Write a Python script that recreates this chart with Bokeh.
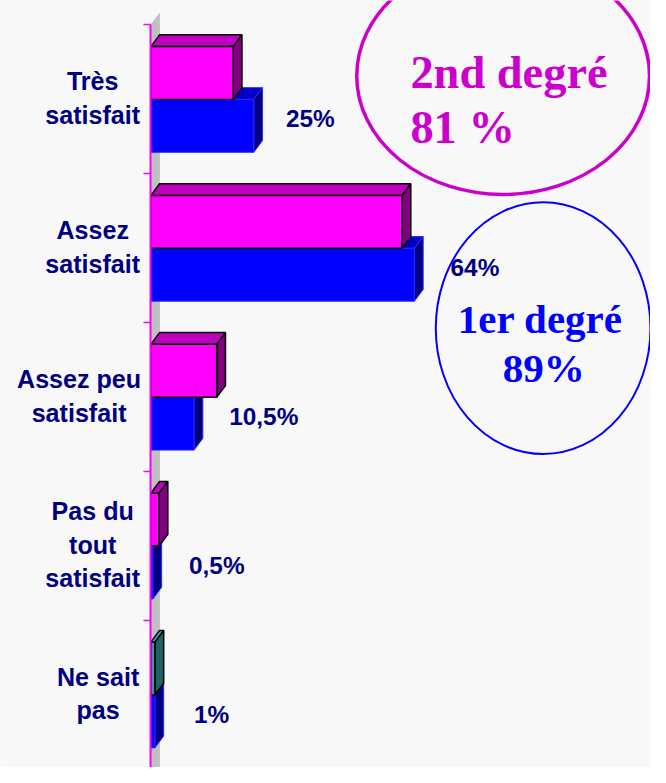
from bokeh.plotting import figure
from bokeh.models import Range1d, LinearAxis, FixedTicker, Label, ColumnDataSource
from bokeh.core.properties import value
from bokeh.embed import file_html
from bokeh.resources import INLINE

# ---------------- data ----------------
categories = ["Très\nsatisfait", "Assez\nsatisfait", "Assez peu\nsatisfait",
              "Pas du\ntout\nsatisfait", "Ne sait\npas"]
second_degre = [20, 61, 16, 2, 1]          # pink series (%)
premier_degre = [25, 64, 10.5, 0.5, 1]     # blue series (%)
value_labels = ["25%", "64%", "10,5%", "0,5%", "1%"]
bubble_2nd = ["2nd degré", "81 %"]
bubble_1er = ["1er degré", "89%"]

# ---------------- layout / style ----------------
W, H = 650, 767
SX, SY = W / 666, H / 783
PX_PER_PCT = 4.22 * SX
BAND_PX = 152 * SY
AXIS_PX = 154 * SX
TOP_PX = 25 * SY
BAR = 0.355
DX = 9 * SX / PX_PER_PCT
DY = 12 * SY / BAND_PX
BG = "#F8F8F8"
NAVY = "#000080"
FS_VAL = "%.1fpx" % (25 * SX)
FS_CAT = "%.1fpx" % (25.7 * SX)

y_end = -0.5 - TOP_PX / BAND_PX
y_start = -0.5 + (H - TOP_PX) / BAND_PX


def rx(ref_x):
    return (ref_x * SX - AXIS_PX) / PX_PER_PCT


def ry(ref_y):
    return -0.5 + (ref_y * SY - TOP_PX) / BAND_PX


p = figure(width=W, height=H, output_backend="svg", toolbar_location=None,
           x_range=Range1d(-AXIS_PX / PX_PER_PCT, (W - AXIS_PX) / PX_PER_PCT),
           y_range=Range1d(y_start, y_end),
           x_axis_type=None, y_axis_type=None,
           min_border=0,
           background_fill_color=BG, border_fill_color=BG, outline_line_color=None)

n = len(categories)
ks = list(range(n))

# back wall
p.patch([0, DX, DX, 0], [-0.5, -0.5 - DY, y_start + 1, y_start + 1],
        fill_color="#C0C0C0", line_color="#B0B0B0", line_width=0.5)


def draw_series(vals, offs, front, top, side, outline, lw):
    y0s = [k + offs for k in ks]
    y1s = [k + offs + BAR for k in ks]
    top_xs = [[0, v, v + DX, DX] for v in vals]
    top_ys = [[a, a, a - DY, a - DY] for a in y0s]
    side_xs = [[v, v + DX, v + DX, v] for v in vals]
    side_ys = [[a, a - DY, b - DY, b] for a, b in zip(y0s, y1s)]
    p.patches(top_xs, top_ys, fill_color=top, line_color=outline, line_width=lw)
    p.patches(side_xs, side_ys, fill_color=side, line_color=outline, line_width=lw)
    p.quad(left=[0] * n, right=vals, top=y0s, bottom=y1s,
           fill_color=front, line_color=outline, line_width=lw)


draw_series(premier_degre, 0.0, "#0000FF", "#0000C8", "#000080", "#2A2AFF", 1)
pink_front = ["#FF00FF"] * 4 + ["#3A9A9A"]
pink_top = ["#C000C0"] * 4 + ["#4FA8A8"]
pink_side = ["#800080"] * 4 + ["#1E6262"]
draw_series(second_degre, -BAR, pink_front, pink_top, pink_side, "black", 1.5)

# value labels
src = ColumnDataSource(dict(x=premier_degre, y=[k + 0.13 for k in ks], t=value_labels,
                            off=[o * SX for o in [33, 37, 36, 37, 40]]))
p.text(x="x", y="y", text="t", x_offset="off", source=src,
       text_font=value("Liberation Sans"), text_font_style="bold", text_font_size=FS_VAL,
       text_color=NAVY, text_baseline="middle", text_align="left")

# axis line + boundary ticks, fixed at x = 0
bounds_ticks = [k - 0.5 for k in ks] + [n - 0.5]
axis = LinearAxis(ticker=FixedTicker(ticks=bounds_ticks), bounds=(-0.5, n - 0.5),
                  fixed_location=0)
axis.axis_line_color = "#FF00FF"
axis.axis_line_width = 2
axis.major_tick_line_color = "#FF00FF"
axis.major_tick_line_width = 1.5
axis.major_tick_out = 7
axis.major_tick_in = 0
axis.minor_tick_line_color = None
axis.major_label_text_font_size = "0px"
axis.major_label_text_alpha = 0
p.add_layout(axis, "left")

# category labels (right-aligned block, centred lines)
block_centre_ref = [94.5, 94.5, 80.5, 94.5, 100]
cat_src = ColumnDataSource(dict(x=[0] * n, y=[k - 0.01 for k in ks], t=categories,
                                off=[(c - 154) * SX for c in block_centre_ref]))
p.text(x="x", y="y", text="t", x_offset="off", source=cat_src,
       text_font=value("Liberation Sans"), text_font_style="bold", text_font_size=FS_CAT,
       text_color=NAVY, text_align="center", text_baseline="middle",
       text_line_height=1.2)

# bubbles
p.ellipse(x=[rx(515)], y=[ry(77)], width=300 * SX, height=242 * SY, width_units="screen",
          height_units="screen", fill_color=None, line_color="#CC00CC", line_width=3.5)
p.ellipse(x=[rx(556)], y=[ry(334.5)], width=220 * SX, height=257 * SY, width_units="screen",
          height_units="screen", fill_color=None, line_color="#0000FF", line_width=2)

for txt, xx, yy in [(bubble_2nd[0], 420, 73), (bubble_2nd[1], 420, 130)]:
    p.add_layout(Label(x=rx(xx), y=ry(yy), text=txt, text_font="Liberation Serif",
                       text_font_style="bold", text_font_size="%.1fpx" % (47.5 * SX),
                       text_color="#CC00CC", text_align="left", text_baseline="alphabetic"))
for txt, xx, yy in [(bubble_1er[0], 553, 325), (bubble_1er[1], 556.5, 375)]:
    p.add_layout(Label(x=rx(xx), y=ry(yy), text=txt, text_font="Liberation Serif",
                       text_font_style="bold", text_font_size="%.1fpx" % (42 * SX),
                       text_color="#0000FF", text_align="center", text_baseline="alphabetic"))

html = file_html(p, INLINE)
html = html.replace("<body>", '<body style="background:%s">' % BG, 1)
open("out.html", "w").write(html)
